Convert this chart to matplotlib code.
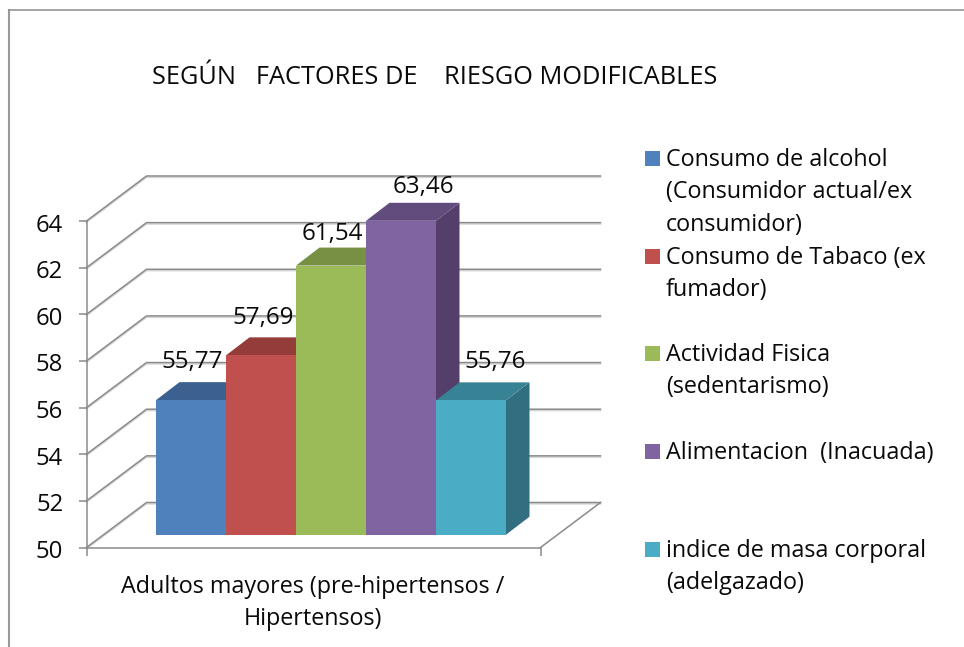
import matplotlib

matplotlib.use("Agg")
import matplotlib.pyplot as plt
import matplotlib.patheffects as pe
from matplotlib.patches import Polygon, Rectangle
from matplotlib.transforms import ScaledTranslation

W, H = 964, 647

series = [
    "Consumo de alcohol\n(Consumidor actual/ex\nconsumidor)",
    "Consumo de Tabaco (ex\nfumador)",
    "Actividad Fisica\n(sedentarismo)",
    "Alimentacion  (Inacuada)",
    "indice de masa corporal\n(adelgazado)",
]
values = [55.77, 57.69, 61.54, 63.46, 55.76]
value_labels = ["55,77", "57,69", "61,54", "63,46", "55,76"]
yticks = [50, 52, 54, 56, 58, 60, 62, 64]
category = "Adultos mayores (pre-hipertensos /\nHipertensos)"
title = "SEGÚN   FACTORES DE    RIESGO MODIFICABLES"

front = ["#4F81BD", "#C0504D", "#9BBB59", "#8064A2", "#4BACC6"]
top = ["#3C6190", "#933C3A", "#779044", "#624C7D", "#388296"]
side = ["#334F74", "#7A302E", "#5F7336", "#533F69", "#316E7F"]
GRID = "#8A8A8A"
INK = "#0A0A0A"
FONT = "Open Sans"

# pixel layout of the front plane
PX_X = 454.0 / 6.486
PX_Y = 326.5 / 14.0
BAR_W = 1.0
BAR_X0 = 0.993
# bars stand part way into the floor, so their whole height sits higher than the front axis
BAR_LIFT = 12.8 / PX_Y
WALL_DX = 60 / PX_X
WALL_DY = 45.0 / PX_Y
DEPTH_DX = 23.5 / PX_X
DEPTH_DY = 18.0 / PX_Y
XMAX = 6.486

# label offsets from the front top centre of each bar, in pixels
label_dx = [1, 2, 1, 22, 24]
label_dy = [38, 37, 32, 34, 38]

plt.rcParams["font.family"] = [FONT, "DejaVu Sans"]

fig = plt.figure(figsize=(W / 100, H / 100), dpi=100, facecolor="white")


def px_text(x, y, s, **kw):
    fig.text(x / W, 1 - (y + 2) / H, s, va="center", **kw)


# outer frame
fig.add_artist(plt.Line2D([9 / W, 9 / W], [0, 1 - 9.5 / H], color="#9A9A9A", lw=1.5))
fig.add_artist(plt.Line2D([9 / W, 1], [1 - 9.5 / H, 1 - 9.5 / H], color="#8C8C8C", lw=1.1))

ax = fig.add_axes([86.5 / W, 1 - 547.5 / H, 454 / W, 326.5 / H])
ax.set_xlim(0, XMAX)
ax.set_ylim(50, 64)
ax.patch.set_alpha(0)
for name in ["top", "right"]:
    ax.spines[name].set_visible(False)
for name in ["left", "bottom"]:
    ax.spines[name].set_color(GRID)
    ax.spines[name].set_linewidth(1.1)

ax.set_yticks(yticks)
ax.set_xticks([0, XMAX])
ax.set_xticklabels([])
ax.tick_params(axis="y", length=5.8, width=1.1, color=GRID, pad=11, labelsize=17.2, labelcolor=INK)
ax.tick_params(axis="x", length=5.8, width=1.1, color=GRID)
nudge = ScaledTranslation(0, -1.5 / 100, fig.dpi_scale_trans)
for tick_label in ax.get_yticklabels():
    tick_label.set_transform(tick_label.get_transform() + nudge)

shadow = [pe.SimpleLineShadow(offset=(0, -1), shadow_color="#BBBBBB", alpha=0.6), pe.Normal()]

# walls: diagonal and back grid line for every tick
for v in yticks:
    ax.plot([0, WALL_DX, WALL_DX + XMAX], [v, v + WALL_DY, v + WALL_DY], color=GRID, lw=1.1,
            clip_on=False, zorder=1, path_effects=shadow)
ax.plot([XMAX, XMAX + WALL_DX], [50, 50 + WALL_DY], color=GRID, lw=1.1, clip_on=False, zorder=1)

# bars, left to right so each one covers the side of the previous
base = 50 + BAR_LIFT
for i, v in enumerate(values):
    x0 = BAR_X0 + i * BAR_W
    x1 = x0 + BAR_W
    y1 = v + BAR_LIFT
    z = 2 + i
    ax.add_patch(Polygon([(x1, base), (x1 + DEPTH_DX, base + DEPTH_DY),
                          (x1 + DEPTH_DX, y1 + DEPTH_DY), (x1, y1)],
                         facecolor=side[i], edgecolor="none", clip_on=False, zorder=z))
    ax.add_patch(Polygon([(x0, y1), (x0 + DEPTH_DX, y1 + DEPTH_DY),
                          (x1 + DEPTH_DX, y1 + DEPTH_DY), (x1, y1)],
                         facecolor=top[i], edgecolor="none", clip_on=False, zorder=z))
    ax.add_patch(Rectangle((x0, base), BAR_W, v - 50, facecolor=front[i],
                           edgecolor="none", clip_on=False, zorder=z))

for i, v in enumerate(values):
    ax.annotate(value_labels[i], xy=(BAR_X0 + (i + 0.5) * BAR_W, v + BAR_LIFT),
                xytext=(label_dx[i], label_dy[i]), textcoords="offset pixels",
                ha="center", va="center", fontsize=17.4, color=INK, zorder=20,
                annotation_clip=False)

# title and category label
px_text(152, 76, title, ha="left", fontsize=18.3, color=INK)
for j, line in enumerate(category.split("\n")):
    px_text(313, 585 + j * 32, line, ha="center", fontsize=16.8, color=INK)

# legend, spacing as laid out in the source chart
legend_y = [158, 256, 353, 451, 549]
for i, label in enumerate(series):
    fig.add_artist(Rectangle((645 / W, 1 - (legend_y[i] + 7.5) / H), 15 / W, 15 / H,
                             transform=fig.transFigure, facecolor=front[i], edgecolor="none"))
    for j, line in enumerate(label.split("\n")):
        px_text(666, legend_y[i] + j * 32.3, line, ha="left", fontsize=16.8, color=INK)

fig.savefig("out.png", dpi=100, facecolor="white")
